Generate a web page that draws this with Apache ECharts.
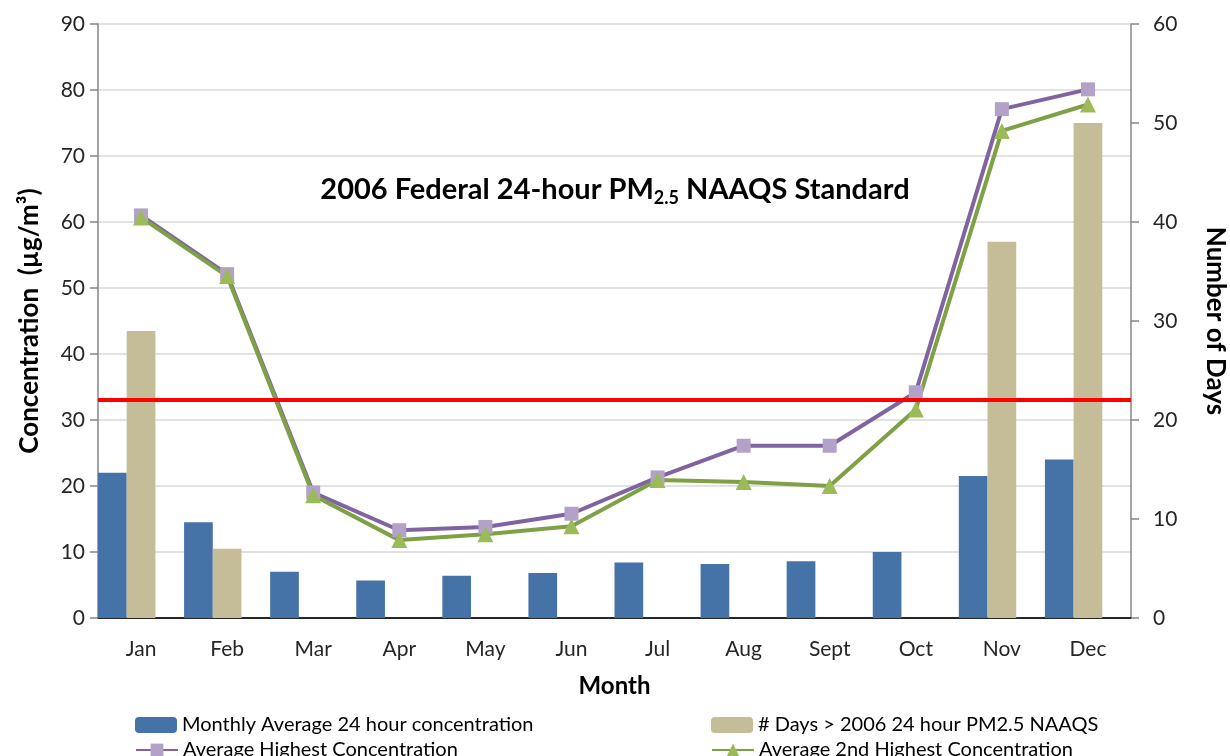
<!DOCTYPE html>
<html style="height: 100%">
<head>
<meta charset="utf-8">
<script src="https://cdn.jsdelivr.net/npm/echarts@6/dist/echarts.min.js"></script>
</head>
<body style="height: 100%; margin: 0; background: #fff">
<div id="main" style="width: 1230px; height: 756px"></div>
<script type="text/javascript">
var months = ['Jan', 'Feb', 'Mar', 'Apr', 'May', 'Jun', 'Jul', 'Aug', 'Sept', 'Oct', 'Nov', 'Dec'];
// µg/m3, left axis
var monthlyAvg = [22.0, 14.5, 7.0, 5.7, 6.4, 6.8, 8.4, 8.2, 8.6, 10.0, 21.5, 24.0];
// number of days, right axis
var daysOver = [29, 7, null, null, null, null, null, null, null, null, 38, 50];
var avgHighest = [61.0, 52.1, 19.0, 13.3, 13.8, 15.8, 21.3, 26.1, 26.1, 34.2, 77.1, 80.1];
var avg2ndHighest = [60.7, 51.8, 18.6, 11.8, 12.7, 13.9, 20.9, 20.6, 20.0, 31.6, 73.8, 77.8];
var standardLevel = 33;

var names = {
    avg: 'Monthly Average 24 hour concentration',
    days: '# Days > 2006 24 hour PM2.5 NAAQS',
    high: 'Average Highest Concentration',
    high2: 'Average 2nd Highest Concentration'
};

var font = 'Lato, "Open Sans", sans-serif';
var myChart = echarts.init(document.getElementById('main'));

// one legend per entry so the 2x2 block lines up like the original
function legendAt(name, left, top) {
    return {
        left: left,
        top: top,
        itemWidth: 42,
        itemHeight: 16,
        textStyle: { fontSize: 20, color: '#000', fontFamily: font, lineHeight: 20 },
        data: [name]
    };
}

var option = {
    backgroundColor: '#fff',
    animation: false,
    textStyle: { fontFamily: font },
    title: {
        left: 'center',
        top: 168,
        text: '{b|2006 Federal 24-hour PM}{s|2.5}{b| NAAQS Standard}',
        textStyle: {
            rich: {
                b: { fontFamily: font, fontSize: 29, fontWeight: 'bold', color: '#000', lineHeight: 34 },
                s: { fontFamily: font, fontSize: 18, fontWeight: 'bold', color: '#000', lineHeight: 16, verticalAlign: 'bottom' }
            }
        }
    },
    legend: [
        legendAt(names.avg, 130, 710),
        legendAt(names.high, 130, 735),
        legendAt(names.days, 706, 710),
        legendAt(names.high2, 706, 735)
    ],
    grid: { left: 98, right: 99, top: 24, bottom: 138, outerBoundsMode: 'none' },
    xAxis: [{
        type: 'category',
        data: months,
        name: 'Month',
        nameLocation: 'middle',
        nameGap: 56,
        nameTextStyle: { fontSize: 24, fontWeight: 'bold', color: '#000' },
        axisLine: { lineStyle: { color: '#868686', width: 1.5 } },
        axisTick: { length: 8, lineStyle: { color: '#868686', width: 1.5 } },
        axisLabel: { fontSize: 21, color: '#262626', margin: 21 }
    }, {
        type: 'category',
        data: months,
        position: 'top',
        axisLine: { lineStyle: { color: '#000', width: 1.5 } },
        axisTick: { show: false },
        axisLabel: { show: false }
    }],
    yAxis: [{
        type: 'value',
        min: 0,
        max: 90,
        interval: 10,
        name: 'Concentration  (\u00b5g/m\u00b3)',
        nameLocation: 'middle',
        nameGap: 55,
        nameTextStyle: { fontSize: 26, fontWeight: 'bold', color: '#000' },
        axisLine: { show: true, lineStyle: { color: '#868686', width: 1.5 } },
        axisTick: { show: true, length: 8, lineStyle: { color: '#868686', width: 1.5 } },
        axisLabel: { fontSize: 21, color: '#262626', margin: 13 },
        splitLine: { lineStyle: { color: '#d9d9d9', width: 1.5 } }
    }, {
        type: 'value',
        min: 0,
        max: 60,
        interval: 10,
        position: 'right',
        name: 'Number of Days',
        nameLocation: 'middle',
        nameRotate: -90,
        nameGap: 71,
        nameTextStyle: { fontSize: 26, fontWeight: 'bold', color: '#000' },
        axisLine: { show: true, lineStyle: { color: '#868686', width: 1.5 } },
        axisTick: { show: true, length: 8, lineStyle: { color: '#868686', width: 1.5 } },
        axisLabel: { fontSize: 21, color: '#262626', margin: 22 },
        splitLine: { show: false }
    }],
    series: [{
        name: names.avg,
        type: 'bar',
        yAxisIndex: 0,
        barGap: '0%',
        barCategoryGap: '0%',
        itemStyle: { color: '#4572a7' },
        data: monthlyAvg
    }, {
        name: names.days,
        type: 'bar',
        yAxisIndex: 1,
        itemStyle: { color: '#c4bd97' },
        data: daysOver
    }, {
        // empty slot, keeps the bar pair on the left of each month like the original
        name: 'spacer',
        type: 'bar',
        yAxisIndex: 1,
        silent: true,
        data: []
    }, {
        name: names.high,
        type: 'line',
        yAxisIndex: 0,
        symbol: 'rect',
        symbolSize: 14,
        lineStyle: { color: '#8064a2', width: 4 },
        itemStyle: { color: '#b3a2c7', borderWidth: 0 },
        data: avgHighest
    }, {
        name: names.high2,
        type: 'line',
        yAxisIndex: 0,
        symbol: 'triangle',
        symbolSize: 16,
        lineStyle: { color: '#7ea146', width: 4 },
        itemStyle: { color: '#9bbb59', borderWidth: 0 },
        data: avg2ndHighest,
        markLine: {
            silent: true,
            symbol: 'none',
            label: { show: false },
            lineStyle: { color: '#ff0000', width: 4, type: 'solid' },
            data: [{ yAxis: standardLevel }]
        }
    }]
};

myChart.setOption(option);
</script>
</body>
</html>
